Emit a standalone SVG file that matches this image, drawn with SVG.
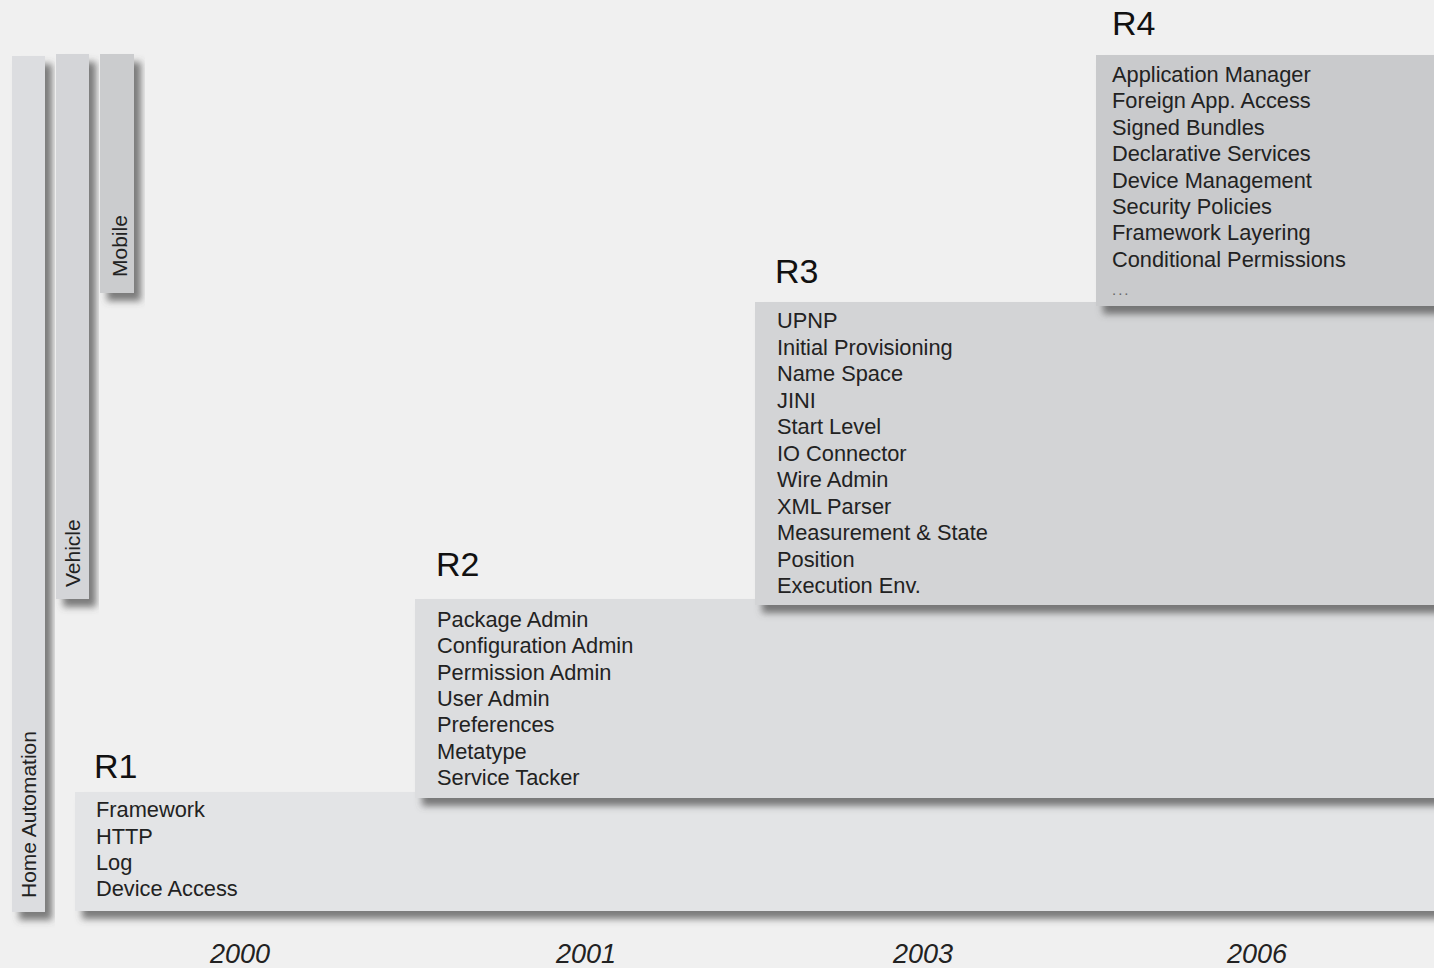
<svg xmlns="http://www.w3.org/2000/svg" width="1434" height="968" viewBox="0 0 1434 968">
<defs>
<filter id="sh" x="-20%" y="-20%" width="150%" height="150%">
<feDropShadow dx="7" dy="8" stdDeviation="3.5" flood-color="#555" flood-opacity="0.75"/>
</filter>
<style>
text{font-family:"Liberation Sans",Arial,sans-serif;fill:#222}
.item{font-size:21.8px}
.rel{font-size:34px;fill:#111}
.yr{font-size:27px;font-style:italic}
.bar{font-size:21px}
.dots{font-size:15px;fill:#666;letter-spacing:2px}
</style>
</defs>
<rect x="0" y="0" width="1434" height="968" fill="#f0f0f0"/>
<g id="home-automation">
<rect x="12" y="56" width="33" height="856" fill="#dcdde0" filter="url(#sh)"/>
<text class="bar" transform="translate(36,898) rotate(-90)">Home Automation</text>
</g>
<g id="vehicle">
<rect x="56" y="54" width="33" height="545" fill="#d4d5d8" filter="url(#sh)"/>
<text class="bar" transform="translate(80,587) rotate(-90)">Vehicle</text>
</g>
<g id="mobile">
<rect x="100" y="54" width="34" height="239" fill="#cbccce" filter="url(#sh)"/>
<text class="bar" transform="translate(127,277) rotate(-90)">Mobile</text>
</g>
<g id="r1">
<rect x="75" y="792" width="1380" height="119" fill="#e3e4e6" filter="url(#sh)"/>
<text class="rel" x="94" y="778">R1</text>
<text class="item" x="96" y="817">Framework</text>
<text class="item" x="96" y="843.5">HTTP</text>
<text class="item" x="96" y="870">Log</text>
<text class="item" x="96" y="896">Device Access</text>
</g>
<g id="r2">
<rect x="415" y="599" width="1040" height="199" fill="#dcdddf" filter="url(#sh)"/>
<text class="rel" x="436" y="576">R2</text>
<text class="item" x="437" y="627">Package Admin</text>
<text class="item" x="437" y="653.3">Configuration Admin</text>
<text class="item" x="437" y="679.6">Permission Admin</text>
<text class="item" x="437" y="706">User Admin</text>
<text class="item" x="437" y="732.3">Preferences</text>
<text class="item" x="437" y="758.6">Metatype</text>
<text class="item" x="437" y="785">Service Tacker</text>
</g>
<g id="r3">
<rect x="755" y="302" width="700" height="303" fill="#d3d4d6" filter="url(#sh)"/>
<text class="rel" x="775" y="283">R3</text>
<text class="item" x="777" y="328">UPNP</text>
<text class="item" x="777" y="354.5">Initial Provisioning</text>
<text class="item" x="777" y="381">Name Space</text>
<text class="item" x="777" y="407.5">JINI</text>
<text class="item" x="777" y="434">Start Level</text>
<text class="item" x="777" y="460.5">IO Connector</text>
<text class="item" x="777" y="487">Wire Admin</text>
<text class="item" x="777" y="513.5">XML Parser</text>
<text class="item" x="777" y="540">Measurement &amp; State</text>
<text class="item" x="777" y="566.5">Position</text>
<text class="item" x="777" y="593">Execution Env.</text>
</g>
<g id="r4">
<rect x="1096" y="55" width="360" height="251" fill="#c9cacc" filter="url(#sh)"/>
<text class="rel" x="1112" y="35">R4</text>
<text class="item" x="1112" y="82">Application Manager</text>
<text class="item" x="1112" y="108.4">Foreign App. Access</text>
<text class="item" x="1112" y="134.8">Signed Bundles</text>
<text class="item" x="1112" y="161.2">Declarative Services</text>
<text class="item" x="1112" y="187.6">Device Management</text>
<text class="item" x="1112" y="214">Security Policies</text>
<text class="item" x="1112" y="240.4">Framework Layering</text>
<text class="item" x="1112" y="266.8">Conditional Permissions</text>
<text class="dots" x="1112" y="295">...</text>
</g>
<g id="years">
<text class="yr" x="240" y="963" text-anchor="middle">2000</text>
<text class="yr" x="586" y="963" text-anchor="middle">2001</text>
<text class="yr" x="923" y="963" text-anchor="middle">2003</text>
<text class="yr" x="1257" y="963" text-anchor="middle">2006</text>
</g>
</svg>
